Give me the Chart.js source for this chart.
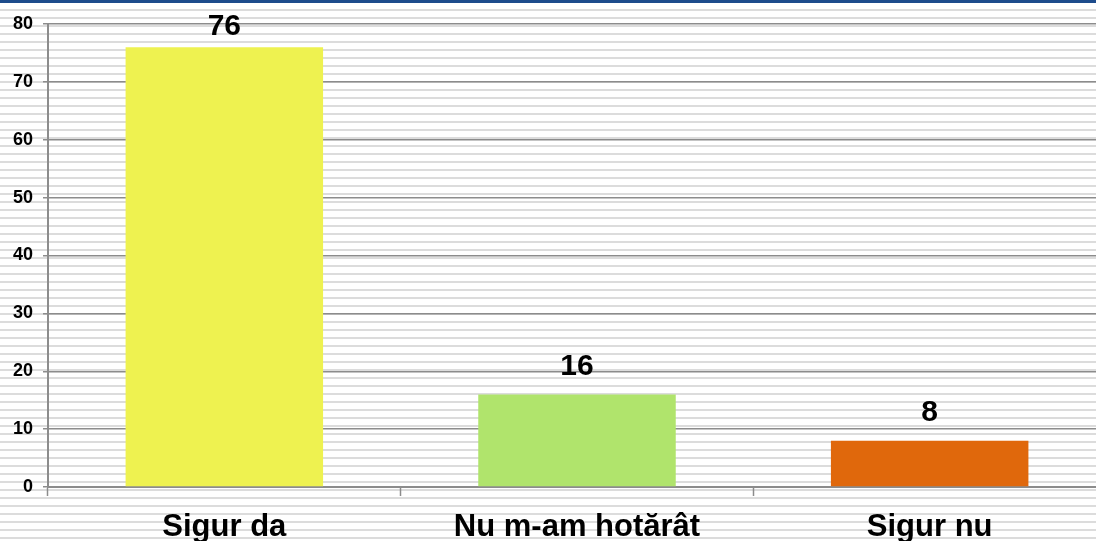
<!DOCTYPE html>
<html>
<head>
<meta charset="utf-8">
<script src="https://cdn.jsdelivr.net/npm/chart.js@4"></script>
<style>
  html, body { margin: 0; padding: 0; overflow: hidden; }
  body {
    width: 1096px; height: 541px; position: relative;
    background-color: #ffffff;
    background-image: repeating-linear-gradient(to bottom, transparent 0px, transparent 1px, #dcdcdc 1px, #dcdcdc 3px, transparent 3px, transparent 8px);
  }
  #topbar { position: absolute; left: 0; top: 0; width: 1096px; height: 3px; background: #1d4c8c; }
  #wrap { position: absolute; left: 0; top: 0; width: 1110px; height: 541px; }
</style>
</head>
<body>
<div id="topbar"></div>
<div id="wrap"><canvas id="myChart"></canvas></div>
<script>
// date
const categories = ["Sigur da", "Nu m-am hotărât", "Sigur nu"];
const values = [76, 16, 8];
const barColors = ["#eef250", "#b0e46c", "#e0680c"];
const yMax = 80;
const yStep = 10;

// etichete de valori deasupra barelor
const valueLabels = {
    id: 'valueLabels',
    afterDatasetsDraw(chart) {
        const ctx = chart.ctx;
        const meta = chart.getDatasetMeta(0);
        ctx.save();
        ctx.font = 'bold 30px "Liberation Sans", Arial, sans-serif';
        ctx.fillStyle = '#000';
        ctx.textAlign = 'center';
        ctx.textBaseline = 'bottom';
        meta.data.forEach((bar, i) => {
            const y = Math.max(bar.y - 13, 42);
            ctx.fillText(String(values[i]), bar.x, y);
        });
        ctx.restore();
    }
};

const config = {
    type: 'bar',
    data: {
        labels: categories,
        datasets: [
            {data: values,
             backgroundColor: barColors,
             barPercentage: 0.56,
             categoryPercentage: 1
            }
        ]},
    options: {
      responsive: false,
      animation: false,
      layout: {
          padding: {top: 24, right: 4, left: 0, bottom: 0}
      },
      plugins: {
          legend: { display: false },
          tooltip: { enabled: false }
      },
      scales: {
          x: {
              afterFit(scale) { scale.height = 54; },
              grid: {
                  offset: true,
                  drawOnChartArea: false,
                  tickLength: 9,
                  tickColor: '#8c8c8c',
                  tickWidth: 1.5
              },
              border: { color: '#8c8c8c', width: 2 },
              ticks: {
                  padding: 14,
                  color: '#000',
                  font: {
                      family: '"Liberation Sans", Arial, sans-serif',
                      size: 31,
                      weight: 'bold',
                      lineHeight: 1.15
                  },
              },
          },
          y: {
              min: 0,
              max: yMax,
              afterFit(scale) { scale.width = 48; },
              grid: {
                  color: '#8c8c8c',
                  lineWidth: 1.5,
                  tickLength: 5
              },
              border: { color: '#8c8c8c', width: 2 },
              ticks: {
                  stepSize: yStep,
                  padding: 10,
                  color: '#000',
                  font: {
                      family: '"Liberation Sans", Arial, sans-serif',
                      size: 18,
                      weight: 'bold'
                  },
              },
          },
      }
  },
  plugins: [valueLabels]
};

const canvas = document.getElementById('myChart');
canvas.width = 1110;
canvas.height = 541;
const myChart = new Chart(canvas, config);
</script>
</body>
</html>
